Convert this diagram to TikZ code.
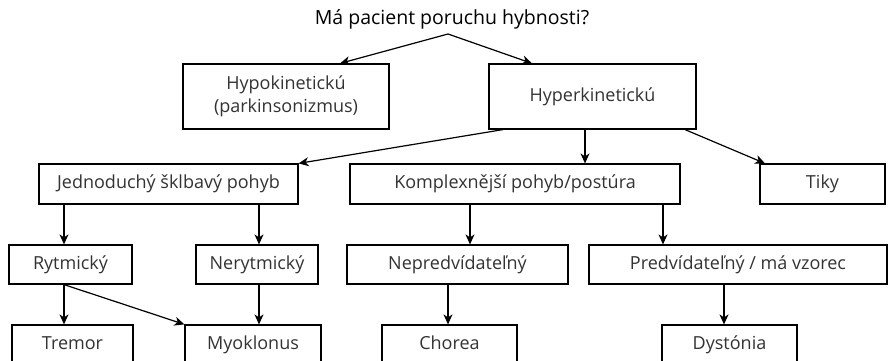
\documentclass[tikz,border=0pt]{standalone}
\usepackage{fontspec}
\setmainfont{Open Sans}
\usetikzlibrary{arrows.meta}
\begin{document}
\begin{tikzpicture}[x=1pt,y=-1pt,
  box/.style={draw,line width=1.2pt,rectangle,inner sep=0pt,align=center,font=\fontsize{18}{23}\selectfont,text=black!80},
  one/.style={box,text height=13pt,text depth=4pt},
  arr/.style={line width=1.2pt,-{Stealth[length=10pt,width=9pt,inset=3pt]}}]
\useasboundingbox[fill=white] (0,0) rectangle (888,361);
\node[font=\fontsize{19.5}{22}\selectfont] (title) at (452,19) {Má pacient poruchu hybnosti?};
\coordinate (ts) at (448,34);
\node[box,minimum width=206pt,minimum height=65pt] (hypo) at (286,96.5) {Hypokinetickú\\(parkinsonizmus)};
\node[one,minimum width=207pt,minimum height=65pt] (hyper) at (592.5,96.5) {Hyperkinetickú};
\node[one,minimum width=259pt,minimum height=40pt] (jed) at (168.5,184) {Jednoduchý šklbavý pohyb};
\node[one,minimum width=330pt,minimum height=40pt] (kom) at (515,184) {Komplexnější pohyb/postúra};
\node[one,minimum width=125pt,minimum height=40pt] (tiky) at (822.5,184) {Tiky};
\node[one,minimum width=123pt,minimum height=39pt] (ryt) at (70.5,264.5) {Rytmický};
\node[one,minimum width=122pt,minimum height=39pt] (neryt) at (257,264.5) {Nerytmický};
\node[one,minimum width=221pt,minimum height=39pt] (nepred) at (457.5,264.5) {Nepredvídateľný};
\node[one,minimum width=298pt,minimum height=39pt] (pred) at (738,264.5) {Predvídateľný / má vzorec};
\node[one,minimum width=121pt,minimum height=40pt] (tremor) at (72.5,345) {Tremor};
\node[one,minimum width=136pt,minimum height=40pt] (myo) at (253,345) {Myoklonus};
\node[one,minimum width=135pt,minimum height=40pt] (chorea) at (449.5,345) {Chorea};
\node[one,minimum width=135pt,minimum height=40pt] (dyst) at (729.5,345) {Dystónia};
\draw[arr] (ts) -- (340,0 |- hypo.north);
\draw[arr] (ts) -- (532,0 |- hyper.north);
\draw[arr] (503,0 |- hyper.south) -- (jed.north east);
\draw[arr] (585,0 |- hyper.south) -- (585,0 |- kom.north);
\draw[arr] (685,0 |- hyper.south) -- (765,0 |- tiky.north);
\draw[arr] (64,0 |- jed.south) -- (64,0 |- ryt.north);
\draw[arr] (259,0 |- jed.south) -- (259,0 |- neryt.north);
\draw[arr] (470,0 |- kom.south) -- (470,0 |- nepred.north);
\draw[arr] (663,0 |- kom.south) -- (663,0 |- pred.north);
\draw[arr] (64,0 |- ryt.south) -- (64,0 |- tremor.north);
\draw[arr] (64,0 |- ryt.south) -- (myo.north west);
\draw[arr] (259,0 |- neryt.south) -- (259,0 |- myo.north);
\draw[arr] (448,0 |- nepred.south) -- (448,0 |- chorea.north);
\draw[arr] (724,0 |- pred.south) -- (724,0 |- dyst.north);
\end{tikzpicture}
\end{document}
